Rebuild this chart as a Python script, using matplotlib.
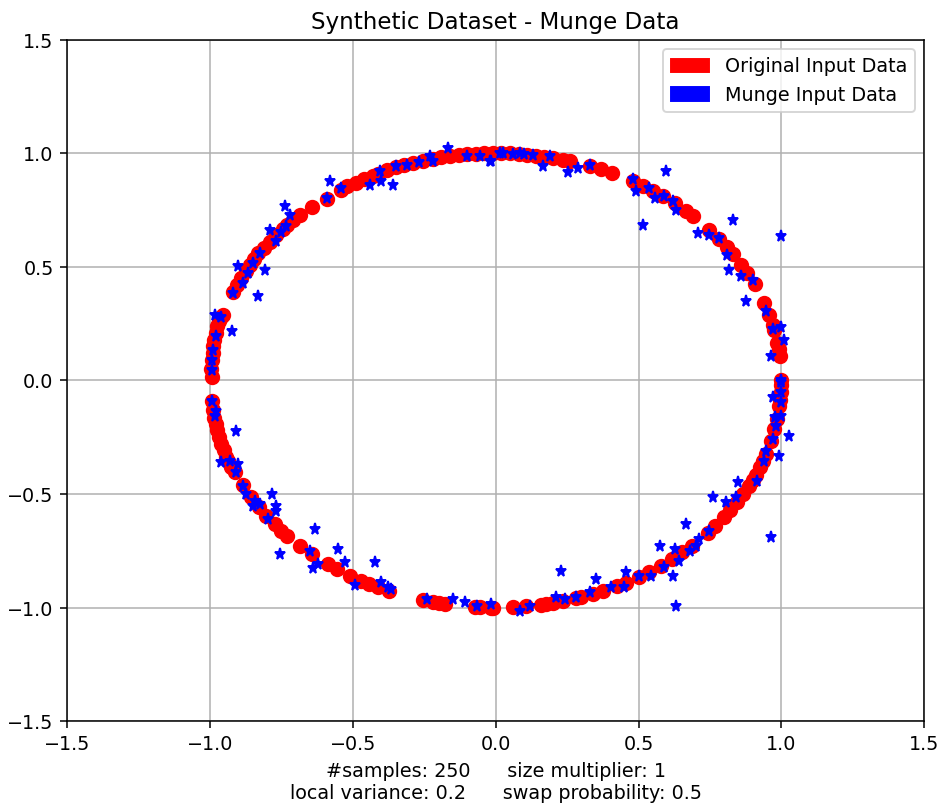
import numpy as np
import matplotlib
matplotlib.use("Agg")
import matplotlib.pyplot as plt
import matplotlib.patches as mpatches

# points (x, y)
original_points = [
    # left, upper part
    (-0.994, 0.013), (-0.995, 0.05), (-0.993, 0.09), (-0.99, 0.12), (-0.988, 0.15),
    (-0.984, 0.18), (-0.98, 0.21), (-0.975, 0.24), (-0.968, 0.26), (-0.96, 0.28),
    (-0.955, 0.29),
    (-0.92, 0.39), (-0.905, 0.42), (-0.89, 0.45), (-0.875, 0.48), (-0.86, 0.51),
    (-0.845, 0.535), (-0.83, 0.56), (-0.81, 0.585), (-0.79, 0.61), (-0.77, 0.64),
    (-0.745, 0.665), (-0.73, 0.685), (-0.71, 0.705), (-0.685, 0.73), (-0.644, 0.765),
    (-0.59, 0.80), (-0.54, 0.84), (-0.52, 0.855), (-0.49, 0.87), (-0.46, 0.885),
    (-0.43, 0.9), (-0.41, 0.91), (-0.38, 0.925), (-0.347, 0.94), (-0.32, 0.947),
    (-0.29, 0.957), (-0.255, 0.967), (-0.22, 0.975), (-0.19, 0.982), (-0.16, 0.987),
    (-0.13, 0.991), (-0.1, 0.995), (-0.07, 0.997), (-0.04, 0.999), (-0.01, 1.0),
    (0.02, 1.0), (0.05, 0.999), (0.08, 0.997), (0.11, 0.994), (0.14, 0.99),
    (0.17, 0.985), (0.2, 0.98), (0.235, 0.972), (0.26, 0.966), (0.33, 0.944),
    (0.37, 0.929), (0.408, 0.913),
    # right, upper part
    (0.48, 0.877), (0.515, 0.857), (0.55, 0.835), (0.585, 0.811), (0.626, 0.78),
    (0.667, 0.745), (0.69, 0.724), (0.748, 0.664), (0.783, 0.622), (0.81, 0.586),
    (0.83, 0.558), (0.86, 0.51), (0.88, 0.475), (0.906, 0.423), (0.94, 0.341),
    (0.958, 0.287), (0.97, 0.243), (0.975, 0.22), (0.986, 0.166), (0.99, 0.14),
    (0.994, 0.107), (0.999, 0.004),
    # right, lower part
    (1.0, -0.02), (0.999, -0.05), (0.996, -0.085), (0.993, -0.113), (0.985, -0.17),
    (0.975, -0.215), (0.963, -0.267), (0.946, -0.326), (0.935, -0.355), (0.924, -0.383),
    (0.91, -0.415), (0.9, -0.44), (0.885, -0.465), (0.865, -0.5), (0.844, -0.537),
    (0.82, -0.57), (0.798, -0.603), (0.768, -0.64), (0.742, -0.67), (0.686, -0.728),
    (0.653, -0.757), (0.617, -0.787), (0.577, -0.817), (0.535, -0.845), (0.5, -0.866),
    (0.456, -0.89), (0.425, -0.905), (0.375, -0.927), (0.34, -0.94), (0.3, -0.954),
    (0.28, -0.96), (0.235, -0.972), (0.2, -0.98), (0.177, -0.984), (0.16, -0.987),
    (0.107, -0.994), (0.06, -0.998), (-0.01, -1.0), (-0.056, -0.998),
    # left, lower part
    (-0.994, -0.09), (-0.99, -0.13), (-0.985, -0.165), (-0.98, -0.19), (-0.975, -0.22),
    (-0.968, -0.25), (-0.96, -0.28), (-0.952, -0.305), (-0.942, -0.335), (-0.935, -0.355),
    (-0.925, -0.38), (-0.913, -0.405), (-0.885, -0.462), (-0.856, -0.515), (-0.829, -0.559),
    (-0.802, -0.597), (-0.773, -0.634), (-0.75, -0.661), (-0.729, -0.685), (-0.685, -0.729),
    (-0.644, -0.765), (-0.587, -0.81), (-0.555, -0.832), (-0.508, -0.861), (-0.47, -0.883),
    (-0.442, -0.897), (-0.412, -0.911), (-0.374, -0.927), (-0.255, -0.967), (-0.22, -0.975),
    (-0.2, -0.98), (-0.178, -0.984), (-0.073, -0.997), (-0.015, -1.0),
]

munge_points = [
    # upper left
    (-0.58, 0.877), (-0.44, 0.862), (-0.4, 0.877), (-0.36, 0.862), (-0.406, 0.92),
    (-0.54, 0.848), (-0.59, 0.805), (-0.738, 0.767), (-0.72, 0.73), (-0.79, 0.664),
    (-0.767, 0.613), (-0.732, 0.679), (-0.75, 0.655), (-0.825, 0.563), (-0.808, 0.488),
    (-0.90, 0.503), (-0.85, 0.519), (-0.867, 0.475), (-0.885, 0.431), (-0.832, 0.371),
    (-0.92, 0.387), (-0.982, 0.29), (-0.924, 0.217), (-0.96, 0.277), (-0.977, 0.195),
    (-0.99, 0.136), (-0.994, 0.092), (-0.994, 0.048), (-0.23, 0.986), (-0.168, 1.024),
    (-0.22, 0.965), (-0.056, 0.99), (-0.015, 0.965), (0.025, 1.0), (-0.312, 0.95),
    (-0.347, 0.943), (-0.27, 0.96), (-0.1, 0.99),
    # upper right
    (-0.02, 0.965), (0.014, 1.0), (0.084, 1.0), (0.13, 0.994), (0.165, 0.946),
    (0.19, 0.986), (0.252, 0.917), (0.287, 0.937), (0.33, 0.95), (0.597, 0.92),
    (0.48, 0.885), (0.49, 0.834), (0.538, 0.848), (0.556, 0.805), (0.59, 0.811),
    (0.62, 0.79), (0.632, 0.752), (0.515, 0.686), (0.707, 0.65), (0.748, 0.642),
    (0.783, 0.629), (0.83, 0.708), (0.999, 0.635), (0.81, 0.554), (0.818, 0.488),
    (0.86, 0.459), (0.9, 0.444), (0.876, 0.349), (0.946, 0.305), (0.97, 0.225),
    (0.999, 0.233), (1.01, 0.18), (0.964, 0.107), (0.999, 0.004), (0.06, 0.995),
    (0.1, 0.995),
    # lower right
    (0.999, -0.009), (1.0, -0.053), (0.999, -0.097), (0.97, -0.075), (0.976, -0.163),
    (1.0, -0.157), (0.98, -0.2), (1.028, -0.245), (0.97, -0.26), (0.993, -0.333),
    (0.946, -0.311), (0.94, -0.355), (0.916, -0.443), (0.847, -0.449), (0.76, -0.515),
    (0.807, -0.537), (0.842, -0.515), (0.964, -0.691), (0.748, -0.663), (0.667, -0.634),
    (0.702, -0.729), (0.626, -0.744), (0.574, -0.729), (0.643, -0.795), (0.62, -0.861),
    (0.632, -0.993), (0.59, -0.823), (0.545, -0.861), (0.503, -0.861), (0.457, -0.845),
    (0.45, -0.911), (0.352, -0.876), (0.405, -0.911), (0.33, -0.933), (0.23, -0.839),
    (0.28, -0.955), (0.212, -0.955), (0.241, -0.964), (0.119, -0.993), (0.084, -1.015),
    (-0.015, -0.985), (0.71, -0.7), (0.68, -0.75),
    # lower left
    (-0.994, -0.09), (-0.977, -0.135), (-0.982, -0.157), (-0.907, -0.223), (-0.96, -0.36),
    (-0.93, -0.355), (-0.9, -0.37), (-0.907, -0.405), (-0.885, -0.465), (-0.872, -0.502),
    (-0.843, -0.531), (-0.85, -0.553), (-0.825, -0.546), (-0.784, -0.502), (-0.767, -0.553),
    (-0.767, -0.575), (-0.797, -0.612), (-0.755, -0.766), (-0.633, -0.656), (-0.65, -0.751),
    (-0.552, -0.744), (-0.528, -0.801), (-0.64, -0.827), (-0.622, -0.81), (-0.423, -0.801),
    (-0.493, -0.902), (-0.4, -0.889), (-0.378, -0.911), (-0.365, -0.919), (-0.242, -0.963),
    (-0.15, -0.963), (-0.108, -0.977), (-0.067, -0.993),
]

n_samples = 250
size_multiplier = 1
local_variance = 0.2
swap_probability = 0.5


def draw_graph(original, munge):
    fig = plt.figure(figsize=(6.8, 5.83), dpi=138)
    ax = fig.add_axes([0.0714, 0.103, 0.9136, 0.847])

    ax.plot(original[:, 0], original[:, 1], 'ro', markersize=7)
    ax.plot(munge[:, 0], munge[:, 1], 'b*', markersize=6)

    ax.set_xlim(-1.5, 1.5)
    ax.set_ylim(-1.5, 1.5)
    ax.set_xticks(np.arange(-1.5, 1.51, 0.5))
    ax.set_yticks(np.arange(-1.5, 1.51, 0.5))
    ax.grid(True)

    ax.set_title('Synthetic Dataset - Munge Data')
    ax.set_xlabel(f'#samples: {n_samples}      size multiplier: {size_multiplier}\n'
                  f'local variance: {local_variance}      swap probability: {swap_probability}')

    red_patch = mpatches.Patch(color='red', label='Original Input Data')
    blue_patch = mpatches.Patch(color='blue', label='Munge Input Data')
    ax.legend(handles=[red_patch, blue_patch], loc='upper right')

    fig.savefig('out.png', dpi=138)


def main():
    original = np.array(original_points)
    munge = np.array(munge_points)
    draw_graph(original, munge)


if __name__ == "__main__":
    main()
